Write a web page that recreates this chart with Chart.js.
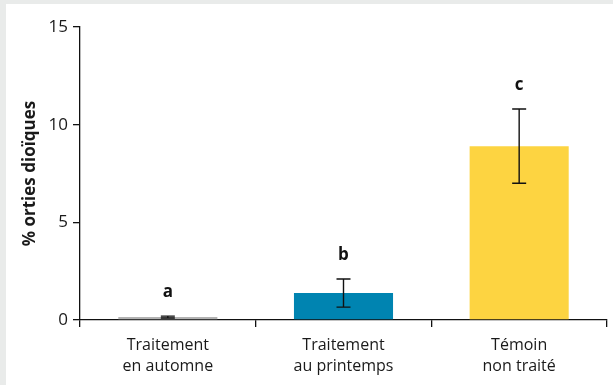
<!DOCTYPE html>
<html>
<head>
<meta charset="utf-8">
<script src="https://cdn.jsdelivr.net/npm/chart.js@4/dist/chart.umd.min.js"></script>
<style>
  html, body { margin: 0; padding: 0; background: #ffffff; }
  #wrap { width: 613px; height: 385px; }
</style>
</head>
<body>
<div id="wrap"><canvas id="c" width="613" height="385"></canvas></div>
<script>
// Categories (two-line labels)
const categories = [
  ["Traitement", "en automne"],
  ["Traitement", "au printemps"],
  ["Témoin", "non traité"]
];
// Mean percentage of dioecious nettles per treatment
const values = [0.15, 1.38, 8.9];
// Error bar half-lengths
const errors = [0.05, 0.72, 1.9];
// Significance letters
const letters = ["a", "b", "c"];
const barColors = ["#b2b2b2", "#0084b1", "#fdd441"];
const yTicks = [0, 5, 10, 15];

const FONT = "'Open Sans', 'Noto Sans', sans-serif";

const framePlugin = {
  id: "frame",
  beforeDraw(chart) {
    const ctx = chart.ctx;
    ctx.save();
    ctx.fillStyle = "#e9ebea";
    ctx.fillRect(0, 0, chart.width, chart.height);
    ctx.fillStyle = "#ffffff";
    ctx.fillRect(6, 4, chart.width - 6, chart.height - 4);
    ctx.restore();
  }
};

const errorPlugin = {
  id: "errorBars",
  afterDatasetsDraw(chart) {
    const ctx = chart.ctx;
    const y = chart.scales.y;
    const meta = chart.getDatasetMeta(0);
    ctx.save();
    ctx.strokeStyle = "#111111";
    ctx.lineWidth = 1.4;
    meta.data.forEach((bar, i) => {
      const x = bar.x;
      const top = y.getPixelForValue(values[i] + errors[i]);
      const bot = y.getPixelForValue(values[i] - errors[i]);
      const half = 7;
      ctx.beginPath();
      ctx.moveTo(x, top); ctx.lineTo(x, bot);
      ctx.moveTo(x - half, top); ctx.lineTo(x + half, top);
      ctx.moveTo(x - half, bot); ctx.lineTo(x + half, bot);
      ctx.stroke();
      ctx.fillStyle = "#111111";
      ctx.font = "bold 17px " + FONT;
      ctx.textAlign = "center";
      ctx.textBaseline = "middle";
      ctx.fillText(letters[i], x, top - 24);
    });
    ctx.restore();
  }
};

new Chart(document.getElementById("c"), {
  type: "bar",
  data: {
    labels: categories,
    datasets: [{
      data: values,
      backgroundColor: barColors,
      borderWidth: 0,
      categoryPercentage: 1,
      barPercentage: 0.564
    }]
  },
  options: {
    responsive: false,
    animation: false,
    devicePixelRatio: 1,
    layout: { padding: { left: 6, top: 27, right: 6, bottom: 0 } },
    plugins: { legend: { display: false }, tooltip: { enabled: false } },
    scales: {
      x: {
        grid: {
          offset: true,
          drawOnChartArea: false,
          drawTicks: true,
          tickLength: 7,
          color: "#111111",
          lineWidth: 1.3
        },
        border: { display: true, color: "#111111", width: 1.3 },
        ticks: {
          color: "#1a1a1a",
          font: { family: FONT, size: 16, lineHeight: 1.31 },
          padding: 8,
          maxRotation: 0
        },
        afterFit(scale) { scale.height = 65; }
      },
      y: {
        min: 0,
        max: 15,
        afterBuildTicks(scale) { scale.ticks = yTicks.map(v => ({ value: v })); },
        grid: {
          drawOnChartArea: false,
          drawTicks: true,
          tickLength: 7,
          color: "#111111",
          lineWidth: 1.3
        },
        border: { display: true, color: "#111111", width: 1.3 },
        ticks: {
          color: "#1a1a1a",
          font: { family: FONT, size: 17 },
          padding: 5
        },
        title: {
          display: true,
          text: "% orties dioïques",
          color: "#1a1a1a",
          font: { family: FONT, size: 17, weight: "bold" },
          padding: { top: 14, bottom: 4 }
        },
        afterFit(scale) { scale.width = 74; }
      }
    }
  },
  plugins: [framePlugin, errorPlugin]
});
</script>
</body>
</html>
